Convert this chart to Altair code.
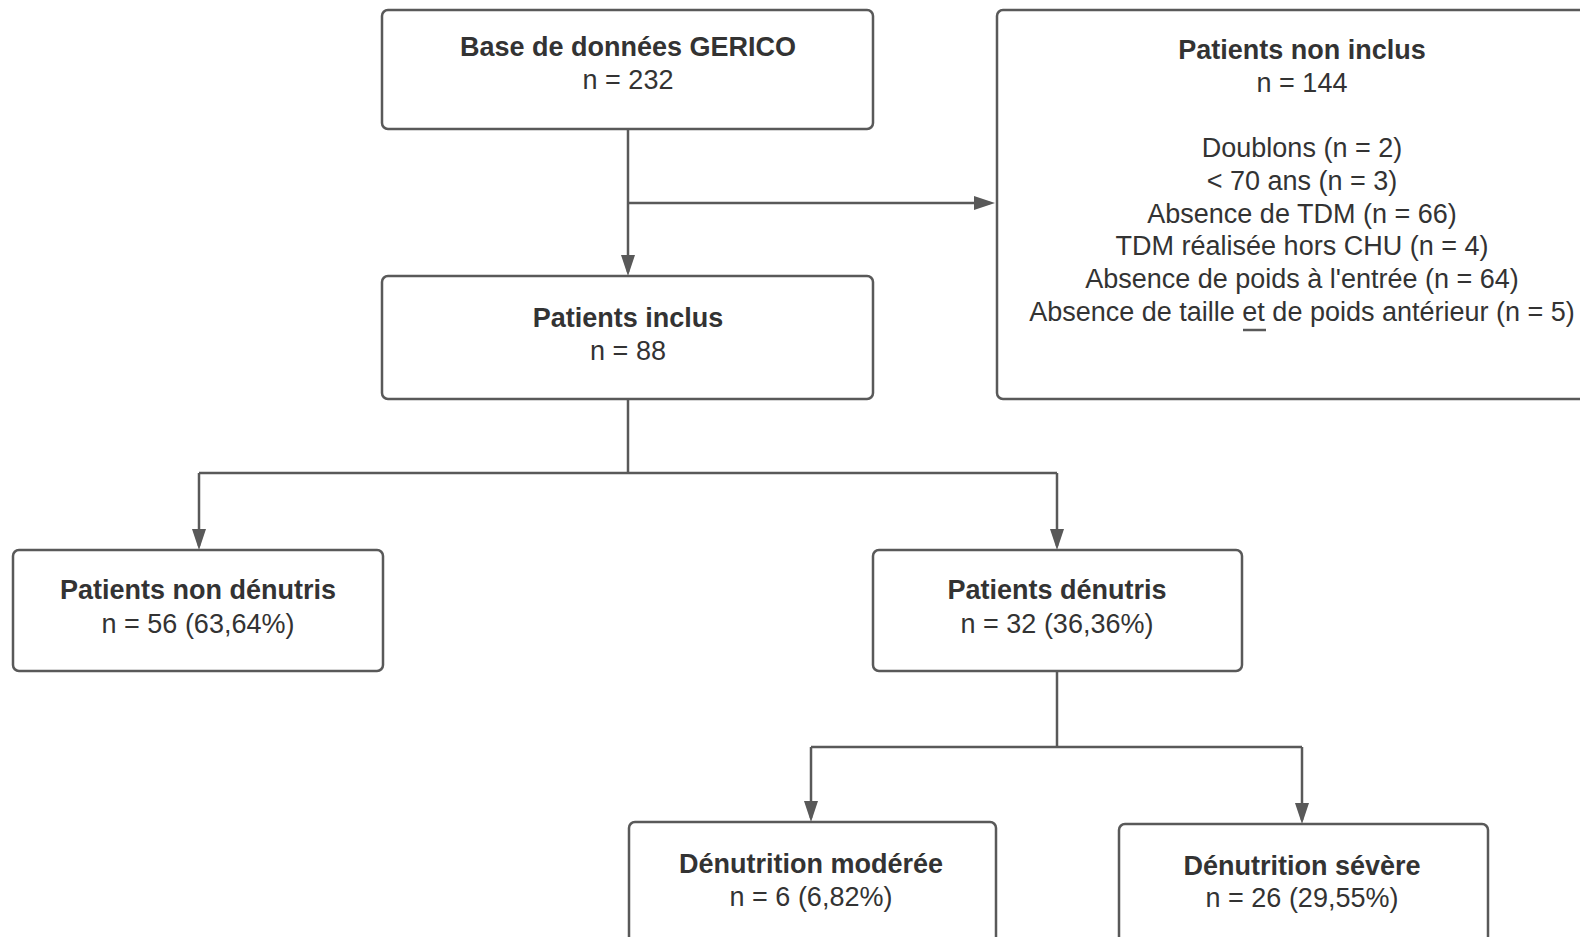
import altair as alt
import pandas as pd

# ---- boxes (page pixel coordinates) ----
box_x0 = [382, 997, 382, 13, 873, 629, 1119]
box_x1 = [873, 1607, 873, 383, 1242, 996, 1488]
box_y0 = [10, 10, 276, 550, 550, 822, 824]
box_y1 = [129, 399, 399, 671, 671, 965, 965]

titles = ["Base de données GERICO", "Patients non inclus", "Patients inclus",
          "Patients non dénutris", "Patients dénutris",
          "Dénutrition modérée", "Dénutrition sévère"]
counts = ["n = 232", "n = 144", "n = 88", "n = 56 (63,64%)", "n = 32 (36,36%)",
          "n = 6 (6,82%)", "n = 26 (29,55%)"]
text_x = [628, 1302, 628, 198, 1057, 811, 1302]
title_y = [48, 51, 319, 591, 591, 865, 867]
count_y = [81, 84, 352, 625, 625, 898, 899]

excl_lines = ["Doublons (n = 2)", "< 70 ans (n = 3)", "Absence de TDM (n = 66)",
              "TDM réalisée hors CHU (n = 4)", "Absence de poids à l'entrée (n = 64)",
              "Absence de taille et de poids antérieur (n = 5)"]
excl_x = [1302] * 6
excl_y = [149, 182, 215, 247, 280, 313]

# connectors
seg_x = [628, 628, 628, 199, 199, 1057, 1057, 811, 811, 1302, 1243]
seg_x2 = [628, 990, 628, 1057, 199, 1057, 1057, 1302, 811, 1302, 1266]
seg_y = [129, 203, 399, 473, 473, 473, 671, 747, 747, 747, 330]
seg_y2 = [272, 203, 473, 473, 546, 546, 747, 747, 818, 820, 330]

# arrow tips
tip_x = [628, 995, 199, 1057, 811, 1302]
tip_y = [276, 203, 550, 550, 822, 824]
tip_dir = ["down", "right", "down", "down", "down", "down"]

LINE = "#595959"
TEXT = "#333333"
FONT = "Liberation Sans"
W, H = 1572, 929

boxes = pd.DataFrame({"x0": box_x0, "x1": box_x1, "y0": box_y0, "y1": box_y1})
labels = pd.DataFrame({"x": text_x, "ty": title_y, "cy": count_y,
                       "title": titles, "count": counts})
excl = pd.DataFrame({"x": excl_x, "y": excl_y, "t": excl_lines})
segs = pd.DataFrame({"x": seg_x, "x2": seg_x2, "y": seg_y, "y2": seg_y2})
tips = pd.DataFrame({"x": tip_x, "y": tip_y, "d": tip_dir})

xs = alt.Scale(domain=[8, 8 + W], nice=False, zero=False)
ys = alt.Scale(domain=[8, 8 + H], nice=False, zero=False, reverse=True)

rects = alt.Chart(boxes).mark_rect(
    fill="white", stroke=LINE, strokeWidth=2.5, cornerRadius=6
).encode(
    x=alt.X("x0:Q", scale=xs, axis=None), x2="x1:Q",
    y=alt.Y("y0:Q", scale=ys, axis=None), y2="y1:Q",
)

rules = alt.Chart(segs).mark_rule(color=LINE, strokeWidth=2.5).encode(
    x=alt.X("x:Q", scale=xs, axis=None), x2="x2:Q",
    y=alt.Y("y:Q", scale=ys, axis=None), y2="y2:Q",
)

down = alt.Chart(tips).transform_filter(alt.datum.d == "down").mark_point(
    shape="M-1,-3L1,-3L0,0Z", filled=True, color=LINE, opacity=1, size=196
).encode(
    x=alt.X("x:Q", scale=xs, axis=None), y=alt.Y("y:Q", scale=ys, axis=None)
)
right = alt.Chart(tips).transform_filter(alt.datum.d == "right").mark_point(
    shape="M-3,-1L-3,1L0,0Z", filled=True, color=LINE, opacity=1, size=196
).encode(
    x=alt.X("x:Q", scale=xs, axis=None), y=alt.Y("y:Q", scale=ys, axis=None)
)

t_title = alt.Chart(labels).mark_text(
    font=FONT, fontSize=27, fontWeight="bold", color=TEXT, baseline="middle"
).encode(
    x=alt.X("x:Q", scale=xs, axis=None), y=alt.Y("ty:Q", scale=ys, axis=None),
    text="title:N",
)
t_count = alt.Chart(labels).mark_text(
    font=FONT, fontSize=27, color=TEXT, baseline="middle"
).encode(
    x=alt.X("x:Q", scale=xs, axis=None), y=alt.Y("cy:Q", scale=ys, axis=None),
    text="count:N",
)
t_excl = alt.Chart(excl).mark_text(
    font=FONT, fontSize=27, color=TEXT, baseline="middle"
).encode(
    x=alt.X("x:Q", scale=xs, axis=None), y=alt.Y("y:Q", scale=ys, axis=None),
    text="t:N",
)

chart = alt.layer(rects, rules, down, right, t_title, t_count, t_excl).properties(
    width=W, height=H,
    autosize=alt.AutoSizeParams(type="none"),
    padding=0,
    background="white",
).configure_view(stroke=None)

chart.save("out.html", embed_options={"renderer": "svg", "actions": False})
